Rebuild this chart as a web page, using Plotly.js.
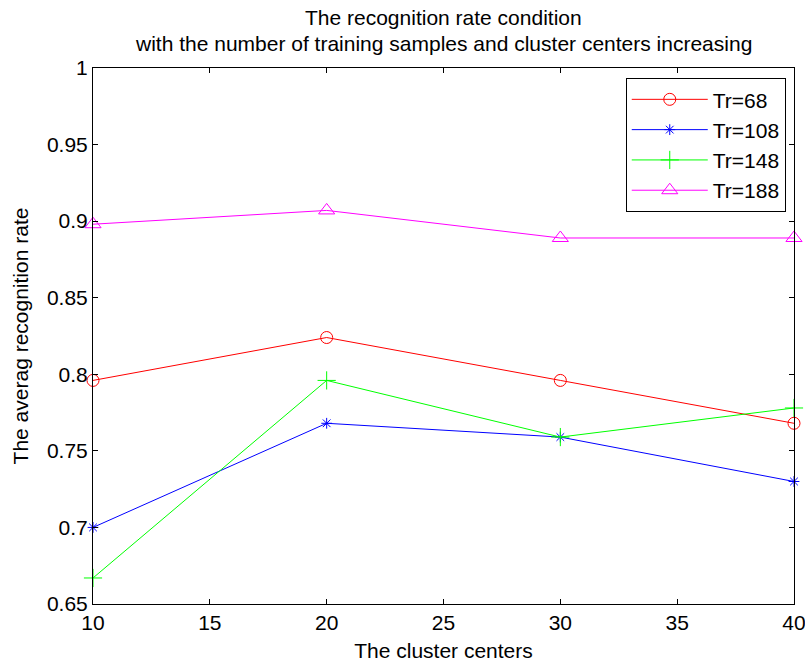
<!DOCTYPE html>
<html>
<head>
<meta charset="utf-8">
<script src="https://cdn.plot.ly/plotly-3.0.1.min.js"></script>
<style>html,body{margin:0;padding:0;background:#fff;}#chart{width:805px;height:663px;}</style>
</head>
<body>
<div id="chart"></div>
<script>
const clusterCenters = [10, 20, 30, 40];
const tr68  = [0.796, 0.824, 0.796, 0.768];
const tr108 = [0.700, 0.768, 0.759, 0.730];
const tr148 = [0.667, 0.796, 0.759, 0.778];
const tr188 = [0.898, 0.907, 0.889, 0.889];
const seriesNames = ['Tr=68', 'Tr=108', 'Tr=148', 'Tr=188'];
const yTickVals = [0.65, 0.7, 0.75, 0.8, 0.85, 0.9, 0.95, 1];
const yTickText = ['0.65', '0.7', '0.75', '0.8', '0.85', '0.9', '0.95', '1'];
const xTickVals = [10, 15, 20, 25, 30, 35, 40];
const titleLines = ['The recognition rate condition', 'with the number of training samples and cluster centers increasing'];

const FONT = 'Liberation Sans, Arial, sans-serif';
function tr(y, name, color, symbol, size) {
  return {
    x: clusterCenters, y: y, name: name, type: 'scatter', mode: 'lines+markers',
    line: {color: color, width: 1},
    marker: {symbol: symbol, size: size, color: color, line: {color: color, width: 1}},
    cliponaxis: false
  };
}
const data = [
  tr(tr68, seriesNames[0], '#ff0000', 'circle-open', 12),
  tr(tr108, seriesNames[1], '#0000ff', 'asterisk-open', 9),
  tr(tr148, seriesNames[2], '#00ff00', 'cross-thin-open', 13),
  tr(tr188, seriesNames[3], '#ff00ff', 'triangle-up-open', 14)
];
const axisCommon = {
  showline: true, mirror: 'ticks', linecolor: '#000', linewidth: 1,
  ticks: 'inside', ticklen: 5, tickcolor: '#000', tickwidth: 1,
  showgrid: false, zeroline: false, ticklabeloverflow: 'allow',
  tickfont: {family: FONT, size: 21, color: '#000'}
};
const layout = {
  width: 805, height: 663,
  paper_bgcolor: '#fff', plot_bgcolor: '#fff',
  margin: {l: 93, r: 11, t: 68, b: 59},
  xaxis: Object.assign({}, axisCommon, {
    range: [10, 40], tickvals: xTickVals,
    title: {text: 'The cluster centers', font: {family: FONT, size: 21, color: '#000'}, standoff: 10}
  }),
  yaxis: Object.assign({}, axisCommon, {
    range: [0.65, 1], tickvals: yTickVals, ticktext: yTickText,
    title: {text: 'The averag recognition rate', font: {family: FONT, size: 21, color: '#000'}, standoff: 12}
  }),
  annotations: [
    {text: titleLines[0], xref: 'paper', yref: 'paper', x: 0.5, y: 1.0951, xanchor: 'center', yanchor: 'middle',
     showarrow: false, font: {family: FONT, size: 21, color: '#000'}},
    {text: titleLines[1], xref: 'paper', yref: 'paper', x: 0.5, y: 1.0448, xanchor: 'center', yanchor: 'middle',
     showarrow: false, font: {family: FONT, size: 21, color: '#000'}}
  ],
  showlegend: true,
  legend: {
    x: 0.76, y: 0.981, xanchor: 'left', yanchor: 'top',
    bgcolor: '#fff', bordercolor: '#000', borderwidth: 1,
    font: {family: FONT, size: 21, color: '#000'},
    itemwidth: 76
  }
};
Plotly.newPlot('chart', data, layout, {displayModeBar: false, staticPlot: true});
</script>
</body>
</html>
